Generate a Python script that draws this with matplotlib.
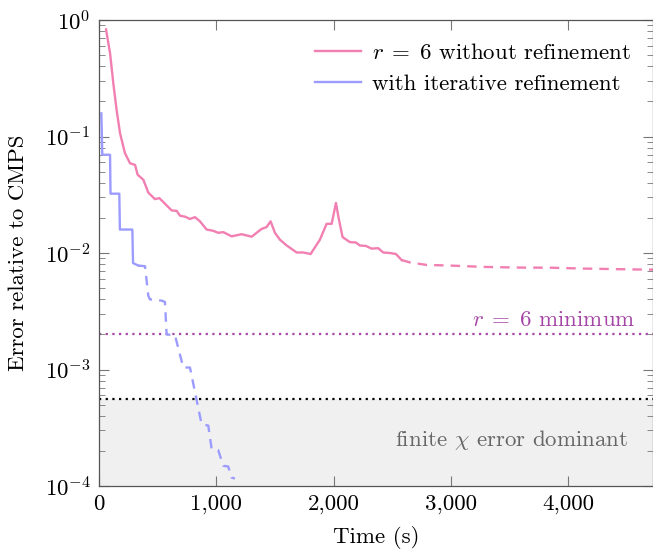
import numpy as np
import matplotlib
matplotlib.use("Agg")
import matplotlib.pyplot as plt
from matplotlib.ticker import FuncFormatter, LogLocator, FixedLocator

plt.rcParams["font.family"] = ["cmr10", "DejaVu Serif"]
plt.rcParams["mathtext.fontset"] = "cm"
plt.rcParams["axes.formatter.use_mathtext"] = True
plt.rcParams["axes.unicode_minus"] = False

# r = 6 without refinement (solid part, then dashed tail)
t_plain = [60, 94, 122, 150, 179, 221, 264, 307, 329, 378, 420, 477, 514, 562,
           619, 662, 690, 733, 775, 818, 860, 917, 974, 1016, 1059, 1130, 1215,
           1301, 1357, 1386, 1428, 1462, 1499, 1542, 1599, 1684, 1741, 1803,
           1882, 1939, 1982, 2019, 2039, 2075, 2138, 2189, 2223, 2274, 2323,
           2379, 2422, 2479, 2530, 2578]
err_plain = [0.83, 0.52, 0.286, 0.169, 0.107, 0.072, 0.059, 0.057, 0.047,
             0.0425, 0.033, 0.029, 0.0296, 0.0265, 0.0232, 0.023, 0.0209,
             0.0205, 0.0196, 0.0203, 0.0187, 0.0159, 0.0155, 0.0149, 0.0151,
             0.0139, 0.0145, 0.0138, 0.0153, 0.0161, 0.0167, 0.0187, 0.0149,
             0.013, 0.0116, 0.0101, 0.0101, 0.0098, 0.013, 0.0178, 0.0178,
             0.0269, 0.0206, 0.0137, 0.0124, 0.0123, 0.0116, 0.0115, 0.0109,
             0.011, 0.0101, 0.0100, 0.0098, 0.0087]
t_plain_tail = [2578, 2649, 2791, 2990, 3273, 3557, 3842, 4125, 4665, 4720]
err_plain_tail = [0.0087, 0.0083, 0.0079, 0.0078, 0.0076, 0.0075, 0.00748,
                  0.00735, 0.0072, 0.0072]

# with iterative refinement
t_ref = [20, 28, 94, 98, 173, 178, 284, 290, 335]
err_ref = [0.158, 0.0697, 0.0697, 0.0323, 0.0323, 0.0159, 0.0159, 0.0082,
           0.0078]
t_ref_tail = [335, 392, 420, 434, 534, 562, 576, 647, 718, 775, 874, 931, 960,
              1016, 1059, 1101, 1130, 1158]
err_ref_tail = [0.0078, 0.0077, 0.0043, 0.0040, 0.0039, 0.0038, 0.0020,
                0.00197, 0.00104, 0.00104, 0.00034, 0.00033, 0.000207,
                0.000203, 0.000149, 0.000147, 0.000118, 0.000116]

r6_min = 0.0020
chi_floor = 0.000555
x_max = 4720

pink = "#F27FB2"
blue = "#9C9CFF"
purple = "#A545A5"
fs = 16.5

fig = plt.figure(figsize=(6.53, 5.5), dpi=100)
ax = fig.add_axes([99 / 653, 1 - 486 / 550, 1 - 99 / 653, 466 / 550])

ax.axhspan(1e-4, chi_floor, color="#F0F0F0", lw=0, zorder=0)
ax.axhline(r6_min, color=purple, ls=(0, (1, 2)), lw=1.6, zorder=1)
ax.axhline(chi_floor, color="black", ls=(0, (1, 2)), lw=1.6, zorder=1)

ax.plot(t_plain, err_plain, color=pink, lw=1.7,
        label="$r\\;=\\;6$ without refinement")
ax.plot(t_plain_tail, err_plain_tail, color=pink, lw=1.7, ls=(0, (4, 3)))
ax.plot(t_ref, err_ref, color=blue, lw=1.7, label="with iterative refinement")
ax.plot(t_ref_tail, err_ref_tail, color=blue, lw=1.7, ls=(0, (4, 3)))

ax.text(4574, r6_min * 1.1, "$r\\;=\\;6$ minimum", color=purple, fontsize=fs,
        ha="right", va="bottom")
ax.text(4506, 2.47e-4, "finite $\\chi$ error dominant", color="#666666",
        fontsize=fs, ha="right", va="center")

ax.set_yscale("log")
ax.set_ylim(1e-4, 1)
ax.set_xlim(0, x_max)
ax.xaxis.set_major_locator(FixedLocator([0, 1000, 2000, 3000, 4000]))
ax.xaxis.set_major_formatter(FuncFormatter(lambda v, p: f"{v:,.0f}"))
ax.yaxis.set_major_locator(LogLocator(base=10, numticks=10))
ax.yaxis.set_minor_locator(LogLocator(base=10, subs=np.arange(2, 10), numticks=20))

ax.tick_params(which="both", direction="in", top=True, right=True,
               labelsize=fs, color="#777777")
ax.tick_params(which="major", length=7, width=0.8, pad=6)
ax.tick_params(which="minor", length=4, width=0.6)
for s in ax.spines.values():
    s.set_color("#555555")
    s.set_linewidth(0.9)

ax.set_xlabel("Time (s)", fontsize=fs, labelpad=9)
ax.set_ylabel("Error relative to CMPS", fontsize=fs, labelpad=12)

ax.legend(loc="upper right", frameon=False, fontsize=fs, handlelength=2.0,
          handletextpad=0.5, borderaxespad=0.0, labelspacing=0.45,
          bbox_to_anchor=(0.977, 0.97))

fig.savefig("out.png", dpi=100)
